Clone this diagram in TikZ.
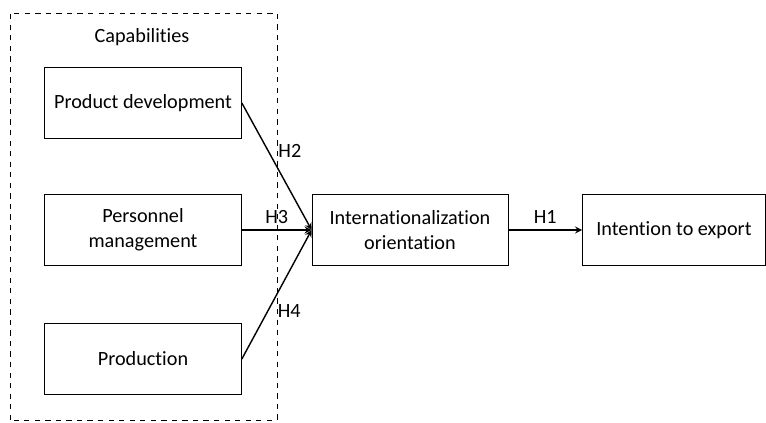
\documentclass[tikz,border=0pt]{standalone}
\usepackage{fontspec}
\setmainfont[Ligatures=NoCommon]{Carlito}
\usepackage{tikz}

\begin{document}
\begin{tikzpicture}[font=\fontsize{11.5}{14.2}\selectfont]
	\useasboundingbox (0,0) rectangle (15.32,8.46);
	\draw[dashed, line width=0.5pt] (0.20,0.06) rectangle (5.54,8.20);
	\node (C) at (2.84,7.72) {Capabilities};%
	\node[draw, rectangle, minimum width=3.94cm, minimum height=1.42cm] (PD) at (2.86,6.40)
	{Product development};%
	\node[draw, rectangle, minimum width=3.94cm, minimum height=1.42cm, align=center] (PM) at (2.86,3.86)
	{Personnel\\management};%
	\node[draw, rectangle, minimum width=3.94cm, minimum height=1.42cm] (PR) at (2.86,1.28)
	{Production};
	\node[draw, rectangle, minimum width=3.92cm, minimum height=1.42cm, align=center] (IO) at (8.20,3.86)
	{Internationalization\\orientation};
	\node[draw, rectangle, minimum width=3.66cm, minimum height=1.42cm] (IE) at (13.48,3.86)
	{Intention to export};
	
	\draw[->,>=stealth, line width=0.8pt] (PD.east) -- (IO.west) node[pos=0.38,right,xshift=2pt] {H2};
	\draw[->,>=stealth, line width=0.8pt] (PM) -- (IO) node[midway,above] {H3};
	\draw[->,>=stealth, line width=0.8pt] (PR.east) -- (IO.west) node[pos=0.37,right,xshift=2pt] {H4};
	\draw[->,>=stealth, line width=0.8pt] (IO) -- (IE) node[midway,above] {H1};
\end{tikzpicture}
\end{document}
